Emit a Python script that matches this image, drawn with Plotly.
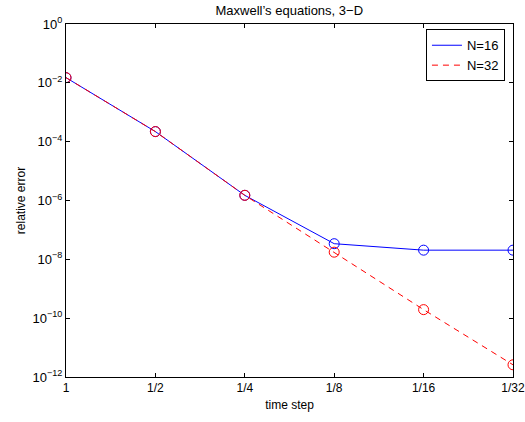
import plotly.graph_objects as go

steps = ["1", "1/2", "1/4", "1/8", "1/16", "1/32"]
err_n16 = [1.5e-2, 2.2e-4, 1.5e-6, 3.4e-8, 2.05e-8, 2.05e-8]
err_n32 = [1.5e-2, 2.2e-4, 1.5e-6, 1.75e-8, 1.95e-10, 2.6e-12]
ytick_exps = [0, -2, -4, -6, -8, -10, -12]

xi = list(range(len(steps)))
font = "Liberation Sans, Arial, Helvetica, sans-serif"

fig = go.Figure()
fig.add_trace(go.Scatter(x=xi, y=err_n16, mode="lines", name="N=16",
                         line=dict(color="blue", width=1)))
fig.add_trace(go.Scatter(x=xi, y=err_n32, mode="lines", name="N=32",
                         line=dict(color="red", width=1, dash="6px,5px")))
fig.add_trace(go.Scatter(x=xi, y=err_n16, mode="markers", showlegend=False,
                         marker=dict(symbol="circle-open", size=10, color="blue",
                                     line=dict(width=1, color="blue"))))
fig.add_trace(go.Scatter(x=xi, y=err_n32, mode="markers", showlegend=False,
                         marker=dict(symbol="circle-open", size=10, color="red",
                                     line=dict(width=1, color="red"))))

fig.update_layout(
    width=525, height=422,
    margin=dict(l=66, r=12, t=24, b=45),
    paper_bgcolor="white", plot_bgcolor="white",
    font=dict(family=font, size=12, color="black"),
    title=dict(text="Maxwell\u2019s equations, 3\u2212D", x=0.551, xanchor="center",
               y=0.976, yanchor="middle", font=dict(size=13)),
    showlegend=True,
    legend=dict(x=0.982, y=0.985, xanchor="right", yanchor="top",
                bgcolor="white", bordercolor="black", borderwidth=1,
                font=dict(size=13), tracegroupgap=0, itemwidth=30),
)
fig.update_xaxes(
    range=[0, 5], tickvals=xi, ticktext=steps, automargin=False,
    ticklabeloverflow="allow",
    showline=True, linecolor="black", linewidth=1, mirror="ticks",
    ticks="inside", ticklen=4, tickcolor="black", showgrid=False, zeroline=False,
    title=dict(text="time step", standoff=6, font=dict(size=12)), tickfont=dict(size=12),
)
fig.update_yaxes(
    type="log", range=[-12, 0], automargin=False,
    ticklabeloverflow="allow",
    tickvals=[10.0 ** e for e in ytick_exps],
    ticktext=["10<sup>%s</sup>" % (str(e).replace("-", "\u2212")) for e in ytick_exps],
    showline=True, linecolor="black", linewidth=1, mirror="ticks",
    ticks="inside", ticklen=4, tickcolor="black", showgrid=False, zeroline=False,
    title=dict(text="relative error", standoff=4, font=dict(size=12)), tickfont=dict(size=13),
)

fig.write_html("out.html", config={"displayModeBar": False},
               post_script="document.body.style.margin='0';document.body.style.overflow='hidden';")
